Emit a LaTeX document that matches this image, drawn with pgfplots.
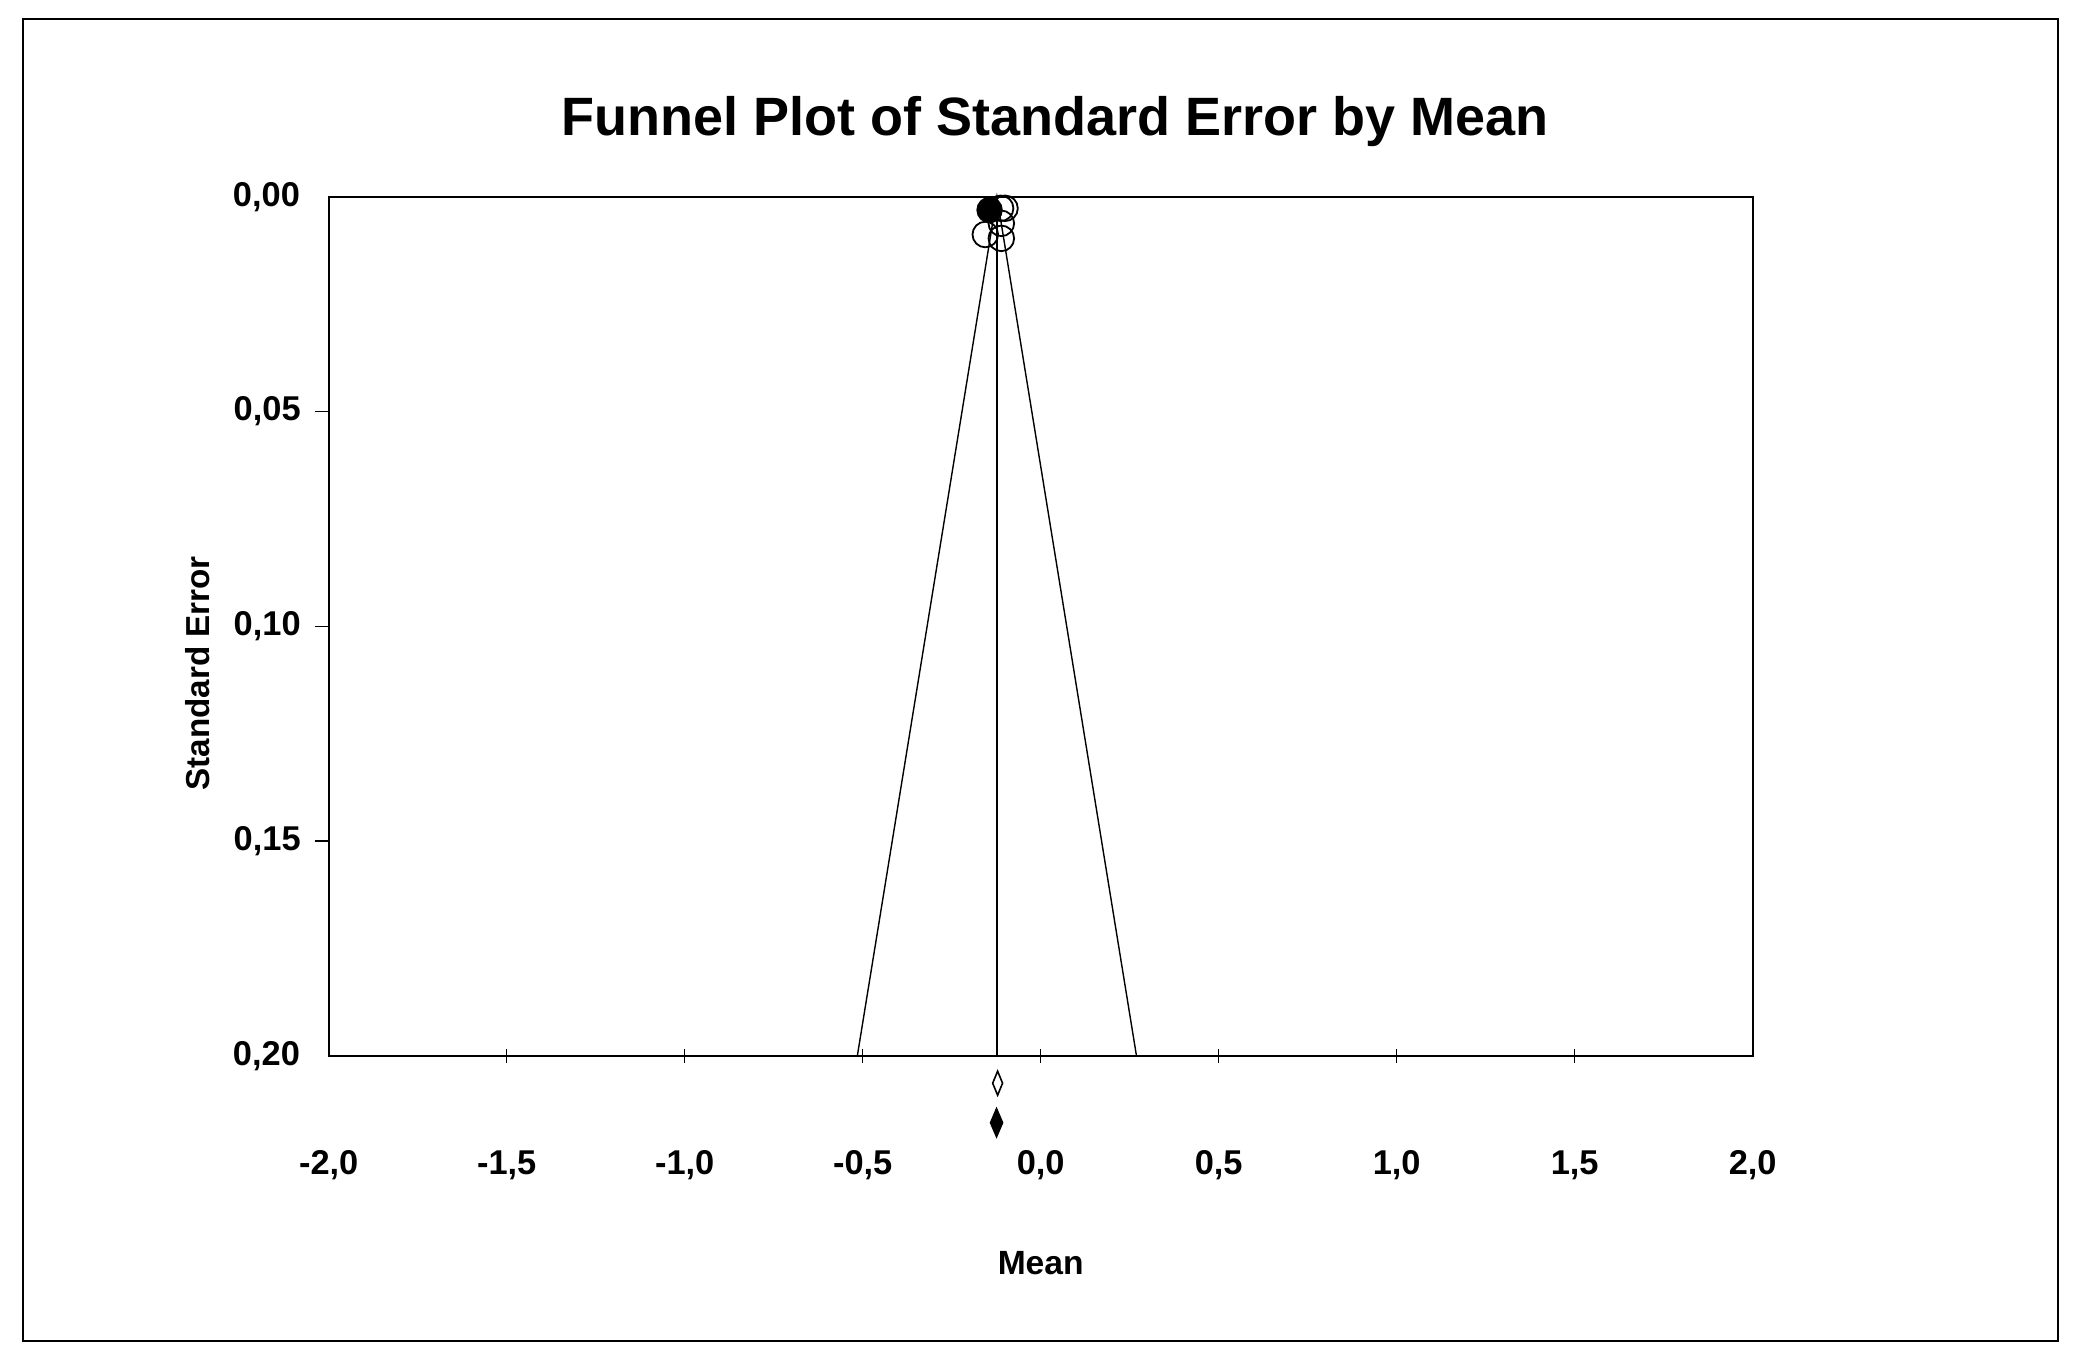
\documentclass[border=0pt]{standalone}
\usepackage{fontspec}
\setmainfont{Liberation Sans}
\usepackage{pgfplots}
\pgfplotsset{compat=1.18}

\begin{document}
\begin{tikzpicture}
% page = 2081 x 1361 px at 0.25pt per px, axis box lower left at origin
\useasboundingbox (-82.175pt,-76.325pt) rectangle (438.075pt,263.925pt);
\draw[line width=0.5pt] (-76.425pt,-71.325pt) rectangle (432.325pt,259.175pt);
\begin{axis}[
  at={(0pt,0pt)}, anchor=south west,
  scale only axis, width=356pt, height=214.75pt,
  xmin=-2, xmax=2, ymin=0, ymax=0.2,
  y dir=reverse,
  clip=false,
  axis line style={line width=0.5pt},
  /pgf/number format/assume math mode=true,
  tick style={black, line width=0.35pt},
  xtick={-1.5,-1,...,1.5},
  extra x ticks={-2,2},
  extra x tick style={major tick length=0pt, xticklabel style={yshift=-1.75pt}},
  xticklabel style={font=\fontsize{8.6}{9}\selectfont\bfseries, anchor=center, yshift=-25.6pt,
    /pgf/number format/fixed, /pgf/number format/fixed zerofill,
    /pgf/number format/precision=1, /pgf/number format/use comma},
  ytick={0.05,0.1,0.15},
  extra y ticks={0,0.2},
  extra y tick style={major tick length=0pt, yticklabel style={xshift=-3.7pt}},
  yticklabel style={font=\fontsize{8.6}{9}\selectfont\bfseries, anchor=east, inner sep=0pt, xshift=-3.3pt,
    /pgf/number format/fixed, /pgf/number format/fixed zerofill,
    /pgf/number format/precision=2, /pgf/number format/use comma},
  xtick align=center, ytick align=outside,
  major tick length=3.5pt,
  xtick pos=bottom, ytick pos=left,
  title={Funnel Plot of Standard Error by Mean},
  title style={font=\fontsize{13.5}{15}\selectfont\bfseries, at={(axis description cs:0.51,1)}, anchor=center, yshift=12.7pt},
  xlabel={Mean},
  xlabel style={font=\fontsize{8.4}{9}\selectfont\bfseries, at={(axis description cs:0.5,0)}, anchor=center, yshift=-51.8pt},
  ylabel={Standard Error},
  ylabel style={font=\fontsize{8.3}{9}\selectfont\bfseries, at={(axis description cs:0,0.445)}, anchor=center, yshift=32.7pt},
]
% funnel (95% limits) and mean line
\addplot[black, line width=0.35pt] coordinates {(-0.515,0.2) (-0.123,0) (0.269,0.2)};
\addplot[black, line width=0.5pt] coordinates {(-0.123,0) (-0.123,0.2)};
% observed studies
\addplot[only marks, mark=o, mark size=3.2pt, mark options={black, line width=0.45pt}] coordinates {
  (-0.1126,0.0027) (-0.1002,0.0027) (-0.1556,0.0088) (-0.1106,0.0097) (-0.1106,0.0062)
};
% imputed study
\addplot[only marks, mark=*, mark size=3.1pt, mark options={black, fill=black}] coordinates {(-0.1436,0.0031)};
% summary diamonds
\addplot[only marks, mark=diamond, mark size=3pt, mark options={black, fill=white, line width=0.4pt, xscale=0.55}] coordinates {(-0.121,0.2064)};
\addplot[only marks, mark=diamond*, mark size=3.5pt, mark options={black, fill=black, xscale=0.57}] coordinates {(-0.124,0.2156)};
\end{axis}
\end{tikzpicture}
\end{document}
